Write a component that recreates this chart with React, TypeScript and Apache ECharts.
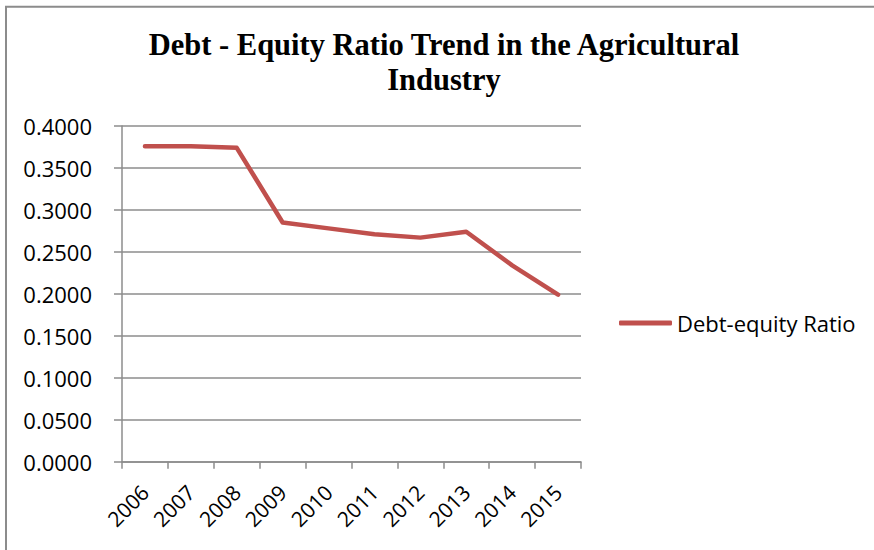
import React, { useEffect, useRef } from "react";
import * as echarts from "echarts";

const years = ["2006", "2007", "2008", "2009", "2010", "2011", "2012", "2013", "2014", "2015"];
const ratioValues = [0.376, 0.376, 0.374, 0.285, 0.278, 0.271, 0.267, 0.274, 0.234, 0.199];
const seriesName = "Debt-equity Ratio";
const titleLines = ["Debt - Equity Ratio Trend in the Agricultural", "Industry"];

export default function App() {
  const ref = useRef<HTMLDivElement>(null);
  useEffect(() => {
    if (!ref.current) return;
    const chart = echarts.init(ref.current, null, { renderer: "svg" });
    const font = "'Open Sans', sans-serif";
    chart.setOption({
      animation: false,
      backgroundColor: "#ffffff",
      graphic: [
        {
          type: "rect",
          shape: { x: 6, y: 6.7, width: 900, height: 600 },
          style: { fill: "none", stroke: "#8c8c8c", lineWidth: 2 },
          silent: true,
        },
        {
          type: "text",
          x: 444,
          y: 27,
          style: {
            text: titleLines.join("\n"),
            fontFamily: "'Liberation Serif', 'Times New Roman', serif",
            fontWeight: "bold",
            fontSize: 30.5,
            lineHeight: 35,
            fill: "#000",
            align: "center",
            verticalAlign: "top",
          },
        },
      ],
      grid: { left: 122, right: 293, top: 126, bottom: 88.3, containLabel: false },
      legend: {
        data: [{ name: seriesName, icon: "roundRect" }],
        left: 619,
        top: 312,
        padding: 0,
        itemWidth: 53,
        itemHeight: 5,
        itemGap: 5,
        textStyle: { fontFamily: font, fontSize: 22, color: "#000" },
      },
      xAxis: {
        type: "category",
        data: years,
        boundaryGap: true,
        axisLine: { lineStyle: { color: "#8c8c8c", width: 1.5 } },
        axisTick: { show: true, length: 7, alignWithLabel: false, lineStyle: { color: "#8c8c8c", width: 1.5 } },
        axisLabel: {
          rotate: 45,
          margin: 27,
          interval: 0,
          fontFamily: font,
          fontSize: 21,
          color: "#000",
        },
        splitLine: { show: false },
      },
      yAxis: {
        type: "value",
        min: 0,
        max: 0.4,
        interval: 0.05,
        axisLine: { show: true, lineStyle: { color: "#8c8c8c", width: 1.5 } },
        axisTick: { show: true, length: 8, lineStyle: { color: "#8c8c8c", width: 1.5 } },
        axisLabel: {
          margin: 30,
          fontFamily: font,
          fontSize: 22,
          color: "#000",
          formatter: (v: number) => v.toFixed(4),
        },
        splitLine: { show: true, lineStyle: { color: "#8c8c8c", width: 1.5 } },
      },
      series: [
        {
          name: seriesName,
          type: "line",
          data: ratioValues,
          symbol: "none",
          lineStyle: { color: "#c0504d", width: 4.5, cap: "round", join: "round" },
          itemStyle: { color: "#c0504d" },
        },
      ],
    });
    return () => chart.dispose();
  }, []);
  return (
    <div
      ref={ref}
      style={{ position: "absolute", left: 0, top: 0, width: 874, height: 550, background: "#fff" }}
    />
  );
}
